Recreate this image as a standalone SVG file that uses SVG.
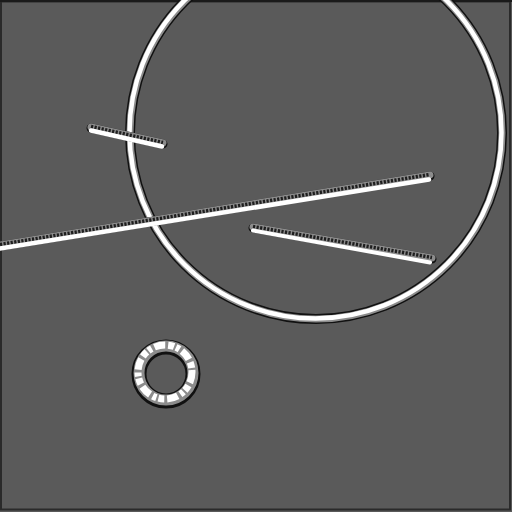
<svg xmlns="http://www.w3.org/2000/svg" width="512" height="512" viewBox="0 0 512 512">
<style>
.sh{fill:none;stroke:#111;stroke-linecap:round}
.hi{fill:none;stroke:#fff;stroke-linecap:round}
.mid{fill:none;stroke:#8c8c8c;stroke-linecap:round}
.tex{fill:none;stroke:#1e1e1e;stroke-linecap:butt;stroke-dasharray:2.2 1.4}
</style>
<rect x="0" y="0" width="512" height="512" fill="#5a5a5a"/>
<rect x="1" y="1.5" width="509" height="508" fill="none" stroke="#2a2a2a" stroke-width="2"/>
<rect x="0" y="0" width="512" height="2" fill="#1a1a1a"/>
<g id="big-circle">
<circle cx="316" cy="133" r="186" class="sh" stroke-width="10"/>
<circle cx="316" cy="133" r="186" class="mid" stroke-width="7"/>
<circle cx="315.5" cy="132.5" r="186" class="hi" stroke-width="4.5"/>
</g>
<g id="lines">
<g id="line-long">
<line x1="0" y1="246" x2="430" y2="176" class="sh" stroke-width="9"/>
<line x1="0" y1="245" x2="430" y2="175" class="mid" stroke-width="7"/>
<line x1="0" y1="244.5" x2="430" y2="174.5" class="tex" stroke-width="3.5"/>
<line x1="0" y1="248.5" x2="429" y2="179.5" class="hi" stroke-width="4.5"/>
</g>
<g id="line-short">
<line x1="91" y1="128" x2="163" y2="144" class="sh" stroke-width="9"/>
<line x1="91" y1="127" x2="163" y2="143" class="mid" stroke-width="7"/>
<line x1="91" y1="126.5" x2="163" y2="142.5" class="tex" stroke-width="3.5"/>
<line x1="91" y1="130.5" x2="162" y2="146.5" class="hi" stroke-width="4.5"/>
</g>
<g id="line-right">
<line x1="253" y1="228" x2="432" y2="259" class="sh" stroke-width="9"/>
<line x1="253" y1="227" x2="432" y2="258" class="mid" stroke-width="7"/>
<line x1="253" y1="226.5" x2="432" y2="257.5" class="tex" stroke-width="3.5"/>
<line x1="253" y1="230.5" x2="430" y2="262.5" class="hi" stroke-width="4"/>
</g>
</g>
<g id="small-ring">
<circle cx="166" cy="374" r="27" class="sh" stroke-width="15"/>
<circle cx="166" cy="373" r="27" class="mid" stroke-width="11"/>
<circle cx="165" cy="372" r="27" fill="none" stroke="#fff" stroke-width="7" stroke-dasharray="11 3 6 2 4 3"/>
</g>
</svg>
